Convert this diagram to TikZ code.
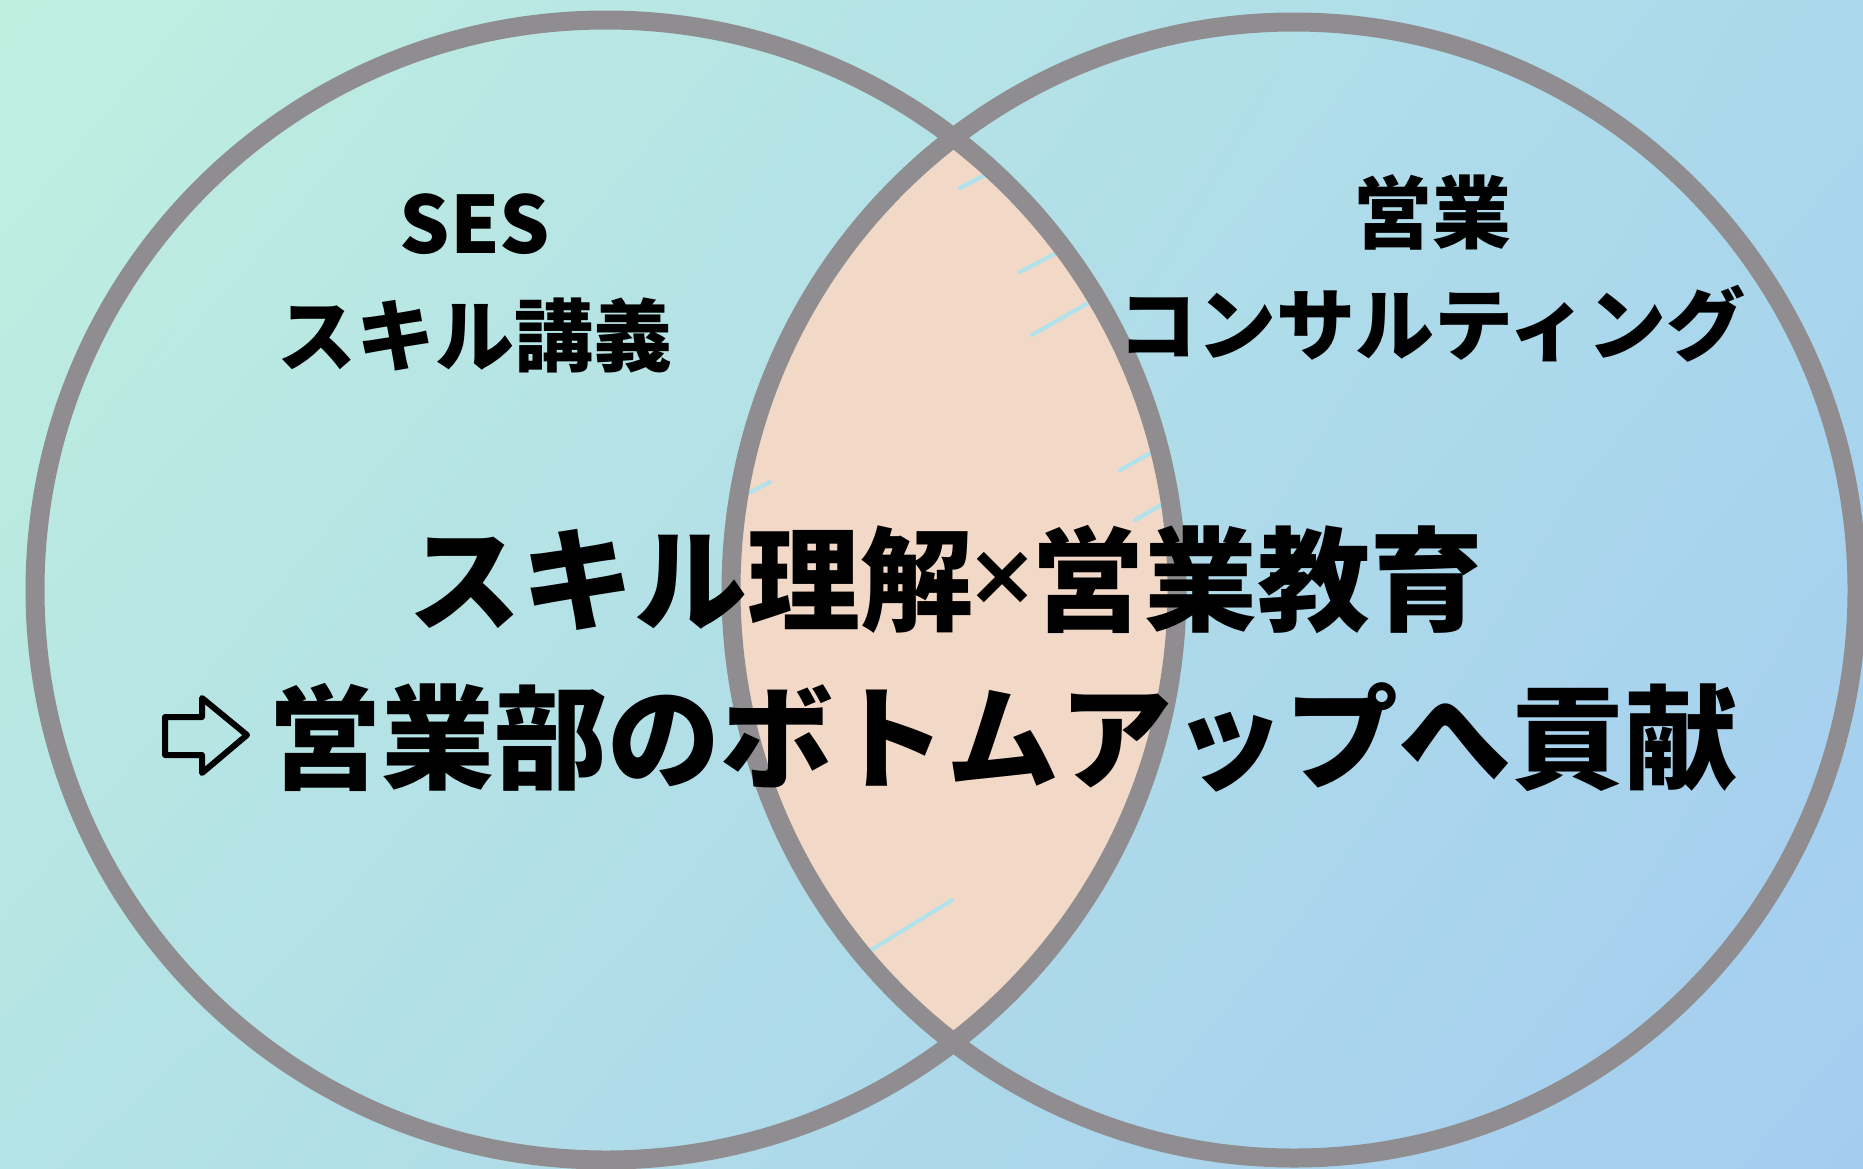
\documentclass[tikz,border=0pt]{standalone}
\usepackage{fontspec}
\usetikzlibrary{shadings}
\newfontfamily\jp{Noto Sans CJK JP Black}
\newfontfamily\symf{DejaVu Sans}
\definecolor{bgUL}{RGB}{192,239,224}
\definecolor{bgUR}{RGB}{170,216,236}
\definecolor{bgLL}{RGB}{180,227,229}
\definecolor{bgLR}{RGB}{164,204,240}
\definecolor{ringgray}{RGB}{143,141,143}
\definecolor{lens}{RGB}{242,216,198}
\definecolor{streak}{RGB}{176,226,236}
\tikzset{
  ring/.style={draw=ringgray, line width=19pt},
  smalllabel/.style={font=\jp\fontsize{79}{112}\selectfont, align=center, text=black, inner sep=0pt},
  biglabel/.style={font=\jp\fontsize{113}{113}\selectfont, text=black, inner sep=0pt},
  scratch/.style={draw=streak, line width=4pt, line cap=round},
  arrowicon/.style={draw=black, line width=6pt, line join=round}
}
\begin{document}
\begin{tikzpicture}[x=1pt,y=-1pt]
\useasboundingbox (0,0) rectangle (1863,1168);
\shade[upper left=bgUL, upper right=bgUR, lower left=bgLL, lower right=bgLR] (0,0) rectangle (1863,1168);
% lens
\begin{scope}
  \clip (606,590) ellipse [x radius=571, y radius=570];
  \fill[lens] (1294,590) ellipse [x radius=563, y radius=568];
  \path[scratch] (960,188) -- (1010,162);
  \path[scratch] (1020,272) -- (1062,250);
  \path[scratch] (1032,335) -- (1088,303);
  \path[scratch] (1120,470) -- (1165,445);
  \path[scratch] (1135,520) -- (1170,500);
  \path[scratch] (868,952) -- (952,900);
  \path[scratch] (745,495) -- (770,482);
  \path[scratch] (1130,880) -- (1165,860);
\end{scope}
% circles
\draw[ring] (606,590) ellipse [x radius=571, y radius=570];
\draw[ring] (1294,590) ellipse [x radius=563, y radius=568];
% labels
\node[smalllabel] (ses) at (475,283) {SES\\スキル講義};
\node[smalllabel] (sales) at (1432,268) {営業\\コンサルティング};
\node[biglabel] (l1) at (946,580) {スキル理解\makebox[58pt]{\raisebox{18pt}{\symf\bfseries\fontsize{86}{86}\selectfont ×}}営業教育};
\path[arrowicon] (165,717) -- (202,717) -- (202,698) -- (247,735) -- (202,773) -- (202,755) -- (165,755) -- cycle;
\node[biglabel] (l2) at (1003,737) {営業部のボトムアップへ貢献};
\end{tikzpicture}
\end{document}
